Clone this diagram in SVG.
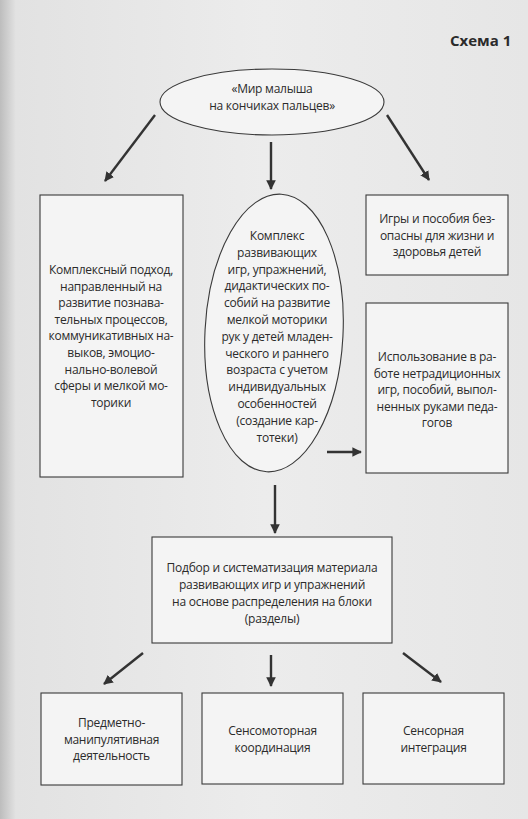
<svg xmlns="http://www.w3.org/2000/svg" width="528" height="819" viewBox="0 0 528 819">
<defs>
<linearGradient id="page" x1="0" y1="0" x2="1" y2="0">
<stop offset="0" stop-color="#bdbdbd"/>
<stop offset="0.03" stop-color="#e2e2e2"/>
<stop offset="0.5" stop-color="#ececec"/>
<stop offset="1" stop-color="#e6e6e6"/>
</linearGradient>
<marker id="ah" viewBox="0 0 10 10" refX="9" refY="5" markerWidth="4" markerHeight="4" orient="auto" markerUnits="strokeWidth">
<path d="M0,0 L10,5 L0,10 Z" fill="#333"/>
</marker>
</defs>
<style>
.node{fill:#f4f4f4;stroke:#3a3a3a;stroke-width:1.1}
.t{font-family:"Open Sans","Noto Sans","Liberation Sans",sans-serif;font-size:12px;letter-spacing:-0.25px;fill:#2b2b2b;text-anchor:middle}
.h{font-family:"Open Sans","Noto Sans","Liberation Sans",sans-serif;font-size:15px;font-weight:bold;fill:#2b2b2b}
.c{stroke:#333;stroke-width:2.4;fill:none;marker-end:url(#ah)}
</style>
<rect x="0" y="0" width="528" height="819" fill="url(#page)"/>
<text class="h" x="450" y="46">Схема 1</text>

<g id="connectors">
<line class="c" x1="155" y1="115" x2="105" y2="181"/>
<line class="c" x1="271" y1="142" x2="271" y2="189"/>
<line class="c" x1="387" y1="115" x2="429" y2="180"/>
<line class="c" x1="327" y1="452" x2="361" y2="452"/>
<line class="c" x1="275" y1="485" x2="275" y2="533"/>
<line class="c" x1="143" y1="653" x2="104" y2="684"/>
<line class="c" x1="271" y1="655" x2="271" y2="686"/>
<line class="c" x1="403" y1="653" x2="441" y2="682"/>
</g>

<g id="root">
<ellipse class="node" cx="272" cy="102" rx="112" ry="33"/>
<text class="t" x="272" y="93">«Мир малыша</text>
<text class="t" x="272" y="110">на кончиках пальцев»</text>
</g>

<g id="approach">
<rect class="node" x="40" y="195" width="143" height="282"/>
<text class="t" x="111" y="274">Комплексный подход,</text>
<text class="t" x="111" y="290.6">направленный на</text>
<text class="t" x="111" y="307.2">развитие познава-</text>
<text class="t" x="111" y="323.8">тельных процессов,</text>
<text class="t" x="111" y="340.4">коммуникативных на-</text>
<text class="t" x="111" y="357">выков, эмоцио-</text>
<text class="t" x="111" y="373.6">нально-волевой</text>
<text class="t" x="111" y="390.2">сферы и мелкой мо-</text>
<text class="t" x="111" y="406.8">торики</text>
</g>

<g id="complex">
<ellipse class="node" cx="274" cy="333" rx="69" ry="139" transform="rotate(3 274 333)"/>
<text class="t" x="277" y="240">Комплекс</text>
<text class="t" x="277" y="256.8">развивающих</text>
<text class="t" x="277" y="273.6">игр, упражнений,</text>
<text class="t" x="277" y="290.4">дидактических по-</text>
<text class="t" x="277" y="307.2">собий на развитие</text>
<text class="t" x="277" y="324">мелкой моторики</text>
<text class="t" x="277" y="340.8">рук у детей младен-</text>
<text class="t" x="277" y="357.6">ческого и раннего</text>
<text class="t" x="277" y="374.4">возраста с учетом</text>
<text class="t" x="277" y="391.2">индивидуальных</text>
<text class="t" x="277" y="408">особенностей</text>
<text class="t" x="277" y="424.8">(создание кар-</text>
<text class="t" x="277" y="441.6">тотеки)</text>
</g>

<g id="safe">
<rect class="node" x="366" y="195" width="142" height="80"/>
<text class="t" x="437" y="223">Игры и пособия без-</text>
<text class="t" x="437" y="239.5">опасны для жизни и</text>
<text class="t" x="437" y="256">здоровья детей</text>
</g>

<g id="nontraditional">
<rect class="node" x="366" y="303" width="142" height="170"/>
<text class="t" x="437" y="361">Использование в ра-</text>
<text class="t" x="437" y="377.5">боте нетрадиционных</text>
<text class="t" x="437" y="394">игр, пособий, выпол-</text>
<text class="t" x="437" y="410.5">ненных руками педа-</text>
<text class="t" x="437" y="427">гогов</text>
</g>

<g id="selection">
<rect class="node" x="152" y="537" width="240" height="106"/>
<text class="t" x="272" y="572">Подбор и систематизация материала</text>
<text class="t" x="272" y="589">развивающих игр и упражнений</text>
<text class="t" x="272" y="606">на основе распределения на блоки</text>
<text class="t" x="272" y="623">(разделы)</text>
</g>

<g id="manipulative">
<rect class="node" x="41" y="693" width="141" height="92"/>
<text class="t" x="111.5" y="727">Предметно-</text>
<text class="t" x="111.5" y="743.5">манипулятивная</text>
<text class="t" x="111.5" y="760">деятельность</text>
</g>

<g id="sensomotor">
<rect class="node" x="202" y="693" width="141" height="91"/>
<text class="t" x="272.5" y="735">Сенсомоторная</text>
<text class="t" x="272.5" y="751.5">координация</text>
</g>

<g id="sensory">
<rect class="node" x="363" y="693" width="141" height="91"/>
<text class="t" x="433.5" y="735">Сенсорная</text>
<text class="t" x="433.5" y="751.5">интеграция</text>
</g>
</svg>
